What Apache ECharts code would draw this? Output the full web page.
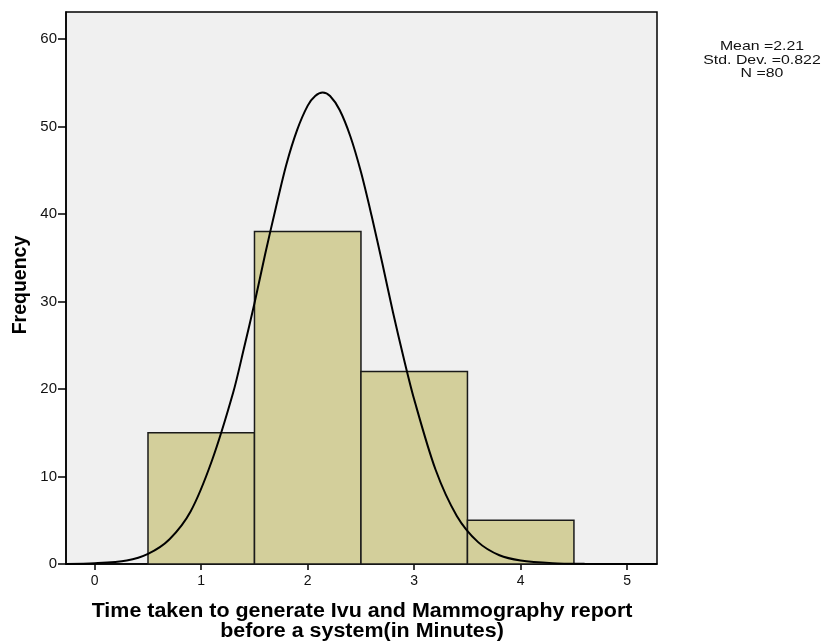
<!DOCTYPE html>
<html>
<head>
<meta charset="utf-8">
<script src="https://cdn.jsdelivr.net/npm/echarts@6/dist/echarts.min.js"></script>
<style>
html, body { margin: 0; padding: 0; background: #ffffff; }
#chart { width: 824px; height: 644px; }
</style>
</head>
<body>
<div id="chart"></div>
<script>
// Histogram bins (minutes) and their frequencies
const binStart = [0.5, 1.5, 2.5, 3.5];
const binEnd = [1.5, 2.5, 3.5, 4.5];
const frequency = [15, 38, 22, 5];

// Fitted normal curve, sampled points [minutes, frequency]
const curveX = [-0.27, 0.0, 0.3, 0.5, 0.7, 0.9, 1.1, 1.3, 1.4, 1.5, 1.6, 1.7, 1.8, 1.9, 2.0, 2.07, 2.14, 2.21, 2.3, 2.4, 2.5, 2.6, 2.7, 2.8, 2.9, 3.0, 3.2, 3.4, 3.6, 3.8, 4.0, 4.3, 4.6, 5.0, 5.28];
const curveY = [0.0, 0.08, 0.4, 1.15, 2.8, 6.0, 11.8, 19.6, 24.6, 29.8, 35.4, 40.7, 45.7, 49.6, 52.4, 53.5, 53.9, 53.5, 51.9, 48.9, 44.8, 39.8, 34.4, 28.8, 23.6, 18.8, 10.8, 5.5, 2.5, 1.0, 0.4, 0.1, 0.02, 0.0, 0.0];

// Axis tick values
const xTicks = [0, 1, 2, 3, 4, 5];
const yTicks = [0, 10, 20, 30, 40, 50, 60];

// Summary statistics
const statLines = ['Mean =2.21', 'Std. Dev. =0.822', 'N =80'];

const xTitle = ['Time taken to generate Ivu and Mammography report', 'before a system(in Minutes)'];
const yTitle = 'Frequency';

const FONT = 'Liberation Sans, Arial, sans-serif';

const barData = binStart.map((s, i) => [s, binEnd[i], frequency[i]]);
const lineData = curveX.map((x, i) => [x, curveY[i]]);

const chart = echarts.init(document.getElementById('chart'), null, { renderer: 'canvas' });

chart.setOption({
  animation: false,
  backgroundColor: '#ffffff',
  grid: {
    left: 66, top: 12, right: 167, bottom: 80,
    show: true,
    backgroundColor: '#f0f0f0',
    borderColor: '#000000',
    borderWidth: 1.5
  },
  xAxis: {
    type: 'value',
    min: -0.27,
    max: 5.28,
    splitLine: { show: false },
    axisLine: { show: true, onZero: false, lineStyle: { color: '#000', width: 1.5 } },
    axisTick: { show: true, length: 6, customValues: xTicks, lineStyle: { color: '#000', width: 1.5 } },
    axisLabel: { customValues: xTicks, color: '#111', fontFamily: FONT, fontSize: 14, margin: 10 }
  },
  yAxis: {
    type: 'value',
    min: 0,
    max: 63.1,
    splitLine: { show: false },
    axisLine: { show: true, onZero: false, lineStyle: { color: '#000', width: 1.5 } },
    axisTick: { show: true, length: 8, customValues: yTicks, lineStyle: { color: '#000', width: 1.5 } },
    axisLabel: { customValues: yTicks, color: '#111', fontFamily: FONT, fontSize: 15, margin: 9 }
  },
  series: [
    {
      type: 'custom',
      data: barData,
      encode: { x: [0, 1], y: 2 },
      renderItem: function (params, api) {
        const p0 = api.coord([api.value(0), 0]);
        const p1 = api.coord([api.value(1), api.value(2)]);
        return {
          type: 'rect',
          shape: { x: p0[0], y: p1[1], width: p1[0] - p0[0], height: p0[1] - p1[1] },
          style: { fill: '#d3cf9b', stroke: '#1a1a1a', lineWidth: 1.5 }
        };
      },
      z: 2
    },
    {
      type: 'line',
      data: lineData,
      smooth: 0.3,
      symbol: 'none',
      lineStyle: { color: '#000', width: 2 },
      z: 3
    }
  ],
  graphic: [
    {
      type: 'text',
      x: 762, y: 40,
      scaleX: 1.22,
      style: {
        text: statLines.join('\n'),
        x: 0, y: 0,
        textAlign: 'center',
        fontFamily: FONT, fontSize: 13, lineHeight: 13.5, fill: '#111'
      }
    },
    {
      type: 'text',
      x: 362, y: 602,
      scaleX: 1.1,
      style: {
        text: xTitle.join('\n'),
        x: 0, y: 0,
        textAlign: 'center',
        fontFamily: FONT, fontSize: 19.5, fontWeight: 'bold', lineHeight: 20, fill: '#000'
      }
    },
    {
      type: 'text',
      rotation: Math.PI / 2,
      x: 11, y: 285,
      style: {
        text: yTitle,
        x: 0, y: 0,
        textAlign: 'center',
        textVerticalAlign: 'top',
        fontFamily: FONT, fontSize: 19.5, fontWeight: 'bold', fill: '#000'
      }
    }
  ]
});
</script>
</body>
</html>
